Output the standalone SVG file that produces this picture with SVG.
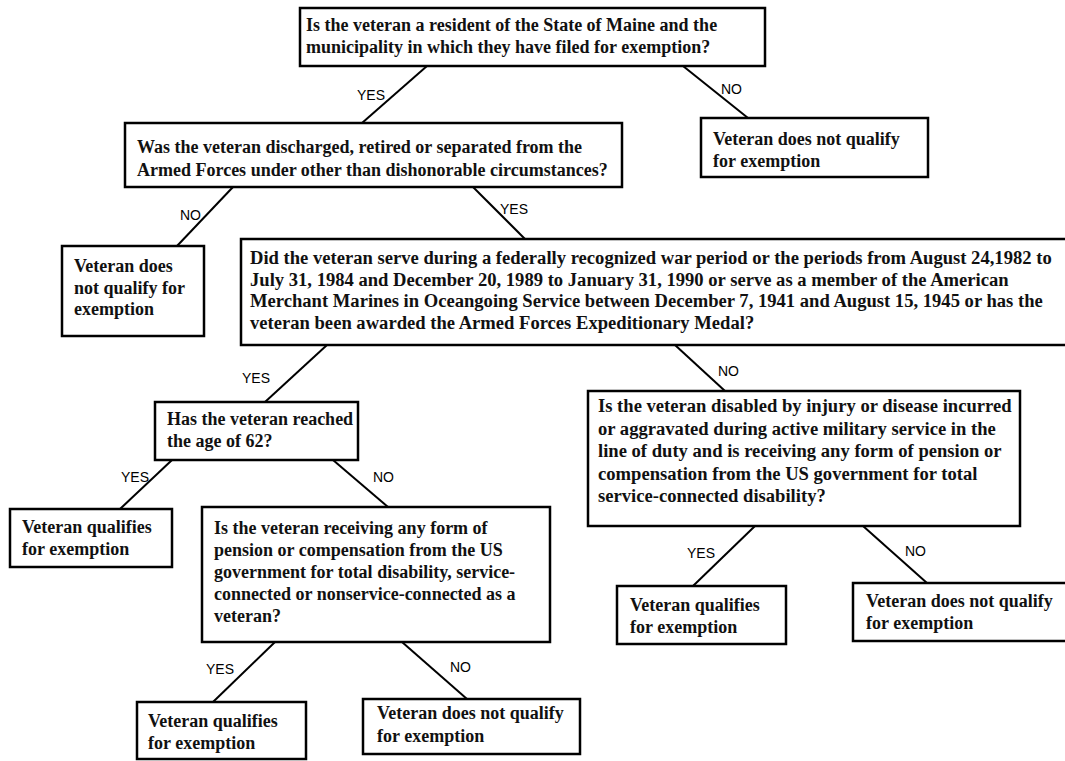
<svg xmlns="http://www.w3.org/2000/svg" width="1065" height="761" viewBox="0 0 1065 761">
<style>
.box{fill:#fff;stroke:#000;stroke-width:2.5}
.t{font-family:"Liberation Serif","Times New Roman",serif;font-size:18px;font-weight:bold;fill:#111}
.tl{font-size:18.6px}
.lbl{font-family:"Liberation Sans",Arial,sans-serif;font-size:14px;fill:#000}
.conn line{stroke:#000;stroke-width:2}
</style>
<rect width="1065" height="761" fill="#fff"/>
<g id="connectors" class="conn">
<line x1="427" y1="66" x2="362" y2="123"/>
<line x1="683" y1="66" x2="748" y2="118"/>
<line x1="233" y1="187" x2="177" y2="246"/>
<line x1="473" y1="187" x2="525" y2="239"/>
<line x1="327" y1="345" x2="265" y2="402"/>
<line x1="675" y1="345" x2="725" y2="391"/>
<line x1="172" y1="460" x2="120" y2="509"/>
<line x1="333" y1="460" x2="388" y2="507"/>
<line x1="755" y1="526" x2="693" y2="586"/>
<line x1="863" y1="526" x2="927" y2="583"/>
<line x1="275" y1="642" x2="213" y2="702"/>
<line x1="402" y1="642" x2="467" y2="699"/>
<text class="lbl" x="357" y="100">YES</text>
<text class="lbl" x="721" y="94">NO</text>
<text class="lbl" x="180" y="220">NO</text>
<text class="lbl" x="500" y="214">YES</text>
<text class="lbl" x="242" y="383">YES</text>
<text class="lbl" x="718" y="376">NO</text>
<text class="lbl" x="121" y="482">YES</text>
<text class="lbl" x="373" y="482">NO</text>
<text class="lbl" x="687" y="558">YES</text>
<text class="lbl" x="905" y="556">NO</text>
<text class="lbl" x="206" y="674">YES</text>
<text class="lbl" x="450" y="672">NO</text>
</g>
<g id="q-resident">
<rect class="box" x="300" y="8" width="465" height="58"/>
<text class="t" x="306" y="31">Is the veteran a resident of the State of Maine and the</text>
<text class="t" x="306" y="53">municipality in which they have filed for exemption?</text>
</g>
<g id="r-not-resident">
<rect class="box" x="701" y="118" width="227" height="59"/>
<text class="t" x="713" y="145">Veteran does not qualify</text>
<text class="t" x="713" y="167">for exemption</text>
</g>
<g id="q-discharged">
<rect class="box" x="125" y="123" width="497" height="64"/>
<text class="t" x="137" y="153">Was the veteran discharged, retired or separated from the</text>
<text class="t" x="137" y="176">Armed Forces under other than dishonorable circumstances?</text>
</g>
<g id="r-dishonorable">
<rect class="box" x="62" y="246" width="142" height="90"/>
<text class="t" x="74" y="272">Veteran does</text>
<text class="t" x="74" y="294">not qualify for</text>
<text class="t" x="74" y="315">exemption</text>
</g>
<g id="q-war-period">
<rect class="box" x="241" y="239" width="834" height="106"/>
<text class="t tl" x="250" y="264">Did the veteran serve during a federally recognized war period or the periods from August 24,1982 to</text>
<text class="t tl" x="250" y="285.5">July 31, 1984 and December 20, 1989 to January 31, 1990 or serve as a member of the American</text>
<text class="t tl" x="250" y="307">Merchant Marines in Oceangoing Service between December 7, 1941 and August 15, 1945 or has the</text>
<text class="t tl" x="250" y="328.5">veteran been awarded the Armed Forces Expeditionary Medal?</text>
</g>
<g id="q-age">
<rect class="box" x="155" y="402" width="203" height="58"/>
<text class="t" x="167" y="425">Has the veteran reached</text>
<text class="t" x="167" y="447">the age of 62?</text>
</g>
<g id="r-age-yes">
<rect class="box" x="10" y="509" width="162" height="58"/>
<text class="t" x="22" y="533">Veteran qualifies</text>
<text class="t" x="22" y="555">for exemption</text>
</g>
<g id="q-pension">
<rect class="box" x="202" y="507" width="348" height="135"/>
<text class="t" x="214" y="534">Is the veteran receiving any form of</text>
<text class="t" x="214" y="556">pension or compensation from the US</text>
<text class="t" x="214" y="578">government for total disability, service-</text>
<text class="t" x="214" y="600">connected or nonservice-connected as a</text>
<text class="t" x="214" y="622">veteran?</text>
</g>
<g id="q-disabled">
<rect class="box" x="588" y="391" width="432" height="135"/>
<text class="t tl" x="598" y="412">Is the veteran disabled by injury or disease incurred</text>
<text class="t tl" x="598" y="434.5">or aggravated during active military service in the</text>
<text class="t tl" x="598" y="457">line of duty and is receiving any form of pension or</text>
<text class="t tl" x="598" y="479.5">compensation from the US government for total</text>
<text class="t tl" x="598" y="502">service-connected disability?</text>
</g>
<g id="r-disabled-yes">
<rect class="box" x="617" y="586" width="169" height="58"/>
<text class="t" x="630" y="611">Veteran qualifies</text>
<text class="t" x="630" y="633">for exemption</text>
</g>
<g id="r-disabled-no">
<rect class="box" x="853" y="583" width="220" height="58"/>
<text class="t" x="866" y="607">Veteran does not qualify</text>
<text class="t" x="866" y="629">for exemption</text>
</g>
<g id="r-pension-yes">
<rect class="box" x="137" y="702" width="169" height="57"/>
<text class="t" x="148" y="727">Veteran qualifies</text>
<text class="t" x="148" y="749">for exemption</text>
</g>
<g id="r-pension-no">
<rect class="box" x="363" y="699" width="217" height="55"/>
<text class="t" x="377" y="719">Veteran does not qualify</text>
<text class="t" x="377" y="742">for exemption</text>
</g>
</svg>
